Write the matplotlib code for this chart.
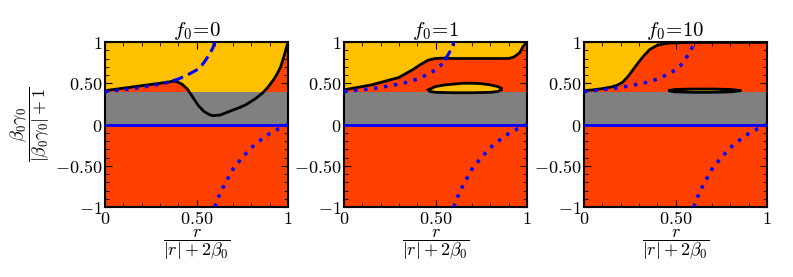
import numpy as np
import matplotlib
matplotlib.use("Agg")
from matplotlib import pyplot as plt

plt.rcParams['mathtext.fontset'] = 'cm'
plt.rcParams['font.family'] = 'serif'
plt.rcParams['font.serif'] = ['DejaVu Serif']

YELLOW = '#FFC000'
RED = '#FF4000'
GREY = '#808080'
BLUE = '#0000FF'

titles = [r'$f_0\!=\!0$', r'$f_0\!=\!1$', r'$f_0\!=\!10$']

# black boundary curves
bx1 = [0, 0.05, 0.1, 0.15, 0.2, 0.25, 0.3, 0.35, 0.37, 0.39, 0.42, 0.45, 0.48, 0.51,
       0.54, 0.57, 0.59, 0.63, 0.67, 0.70, 0.74, 0.77, 0.82, 0.86, 0.89, 0.92, 0.94,
       0.96, 0.98, 1.0]
by1 = [0.41, 0.425, 0.44, 0.455, 0.47, 0.485, 0.50, 0.515, 0.525, 0.52, 0.49, 0.43,
       0.33, 0.23, 0.16, 0.12, 0.107, 0.115, 0.15, 0.176, 0.21, 0.24, 0.31, 0.38,
       0.45, 0.54, 0.61, 0.70, 0.84, 1.0]
bx2 = [0, 0.05, 0.1, 0.15, 0.2, 0.25, 0.3, 0.34, 0.38, 0.42, 0.46, 0.5, 0.55, 0.6,
       0.7, 0.8, 0.9, 0.93, 0.96, 0.98, 1.0]
by2 = [0.42, 0.44, 0.46, 0.48, 0.51, 0.54, 0.57, 0.62, 0.67, 0.73, 0.78, 0.80, 0.805,
       0.80, 0.80, 0.80, 0.80, 0.82, 0.87, 0.95, 1.0]
bx3 = [0, 0.05, 0.1, 0.15, 0.18, 0.21, 0.24, 0.27, 0.3, 0.33, 0.36, 0.4, 0.45, 0.5,
       0.6, 0.8, 1.0]
by3 = [0.41, 0.42, 0.435, 0.455, 0.475, 0.51, 0.58, 0.67, 0.76, 0.84, 0.91, 0.96,
       0.985, 0.99, 0.995, 0.995, 0.995]
black_x = [bx1, bx2, bx3]
black_y = [by1, by2, by3]

# closed loops (panels 2 and 3)
loop2_x = [0.46, 0.5, 0.55, 0.6, 0.65, 0.7, 0.75, 0.8, 0.84, 0.86,
           0.86, 0.84, 0.8, 0.7, 0.6, 0.5, 0.47, 0.46]
loop2_y = [0.42, 0.46, 0.48, 0.49, 0.50, 0.50, 0.495, 0.48, 0.46, 0.44,
           0.42, 0.40, 0.39, 0.385, 0.385, 0.39, 0.40, 0.42]
loop3_x = [0.46, 0.5, 0.6, 0.7, 0.8, 0.86, 0.8, 0.7, 0.6, 0.5, 0.46]
loop3_y = [0.41, 0.425, 0.43, 0.43, 0.425, 0.41, 0.395, 0.39, 0.39, 0.395, 0.41]
loops = [None, (loop2_x, loop2_y), (loop3_x, loop3_y)]

# blue curves
ux = [0, 0.05, 0.1, 0.15, 0.2, 0.25, 0.3, 0.35, 0.37, 0.4, 0.45, 0.5, 0.53, 0.55,
      0.57, 0.59, 0.6]
uy = [0.4, 0.41, 0.42, 0.435, 0.45, 0.47, 0.49, 0.515, 0.53, 0.55, 0.60, 0.66, 0.72,
      0.78, 0.85, 0.93, 1.0]
lx = [0.6, 0.62, 0.65, 0.7, 0.75, 0.8, 0.85, 0.9, 0.95, 1.0]
ly = [-1.0, -0.88, -0.74, -0.54, -0.40, -0.28, -0.19, -0.11, -0.05, 0.0]
split_x = [0.37, 0.55, 2.0]   # dotted below, dashed above

lefts = [105, 344, 584]
W, H = 793, 277

fig = plt.figure(figsize=(7.93, 2.77), dpi=100)
ux = np.array(ux); uy = np.array(uy)
for i in range(3):
    ax = fig.add_axes([lefts[i] / W, 70 / H, 183 / W, 165 / H])
    ax.set_facecolor(RED)
    bx = np.array(black_x[i]); by = np.array(black_y[i])
    ax.fill_between(bx, by, 1, color=YELLOW, lw=0, zorder=1)
    ax.axhspan(0, 0.4, color=GREY, lw=0, zorder=2)
    if loops[i] is not None:
        ax.fill(loops[i][0], loops[i][1], facecolor=YELLOW, edgecolor='k', lw=2, zorder=4)
    ax.plot(bx, by, color='k', lw=2, zorder=5)
    ax.plot([0, 1], [0, 0], color=BLUE, lw=2, zorder=6)
    m = ux <= split_x[i] + 1e-9
    ax.plot(ux[m], uy[m], color=BLUE, lw=2.5, ls=(0, (1, 1.9)), zorder=6)
    m2 = ux >= split_x[i] - 1e-9
    if m2.sum() > 1:
        ax.plot(ux[m2], uy[m2], color=BLUE, lw=2.2, ls=(0, (3.6, 1.8)), zorder=6)
    ax.plot(lx, ly, color=BLUE, lw=2.5, ls=(0, (1, 1.9)), zorder=6)

    ax.set_xlim(0, 1)
    ax.set_ylim(-1, 1)
    ax.set_xticks([0, 0.5, 1])
    ax.set_xticklabels([r'$0$', r'$0.50$', r'$1$'])
    ax.set_yticks([-1, -0.5, 0, 0.5, 1])
    ax.set_yticklabels([r'$-1$', r'$-0.50$', r'$0$', r'$0.50$', r'$1$'])
    ax.set_xticks(np.arange(0, 1.01, 0.1), minor=True)
    ax.set_yticks(np.arange(-1, 1.01, 0.1), minor=True)
    ax.tick_params(which='both', direction='in', top=True, right=True,
                   labelsize=13, pad=2)
    ax.tick_params(which='major', length=5, width=0.8)
    ax.tick_params(which='minor', length=3, width=0.6)
    for s in ax.spines.values():
        s.set_linewidth(1.5)
    ax.set_title(titles[i], fontsize=15, pad=1)
    ax.set_xlabel(r'$\dfrac{r}{|r|+2\beta_0}$', fontsize=13, labelpad=0)
    if i == 0:
        ax.set_ylabel(r'$\dfrac{\beta_0\gamma_0}{|\beta_0\gamma_0|+1}$', fontsize=13,
                      labelpad=2)

fig.savefig('out.png', dpi=100)
